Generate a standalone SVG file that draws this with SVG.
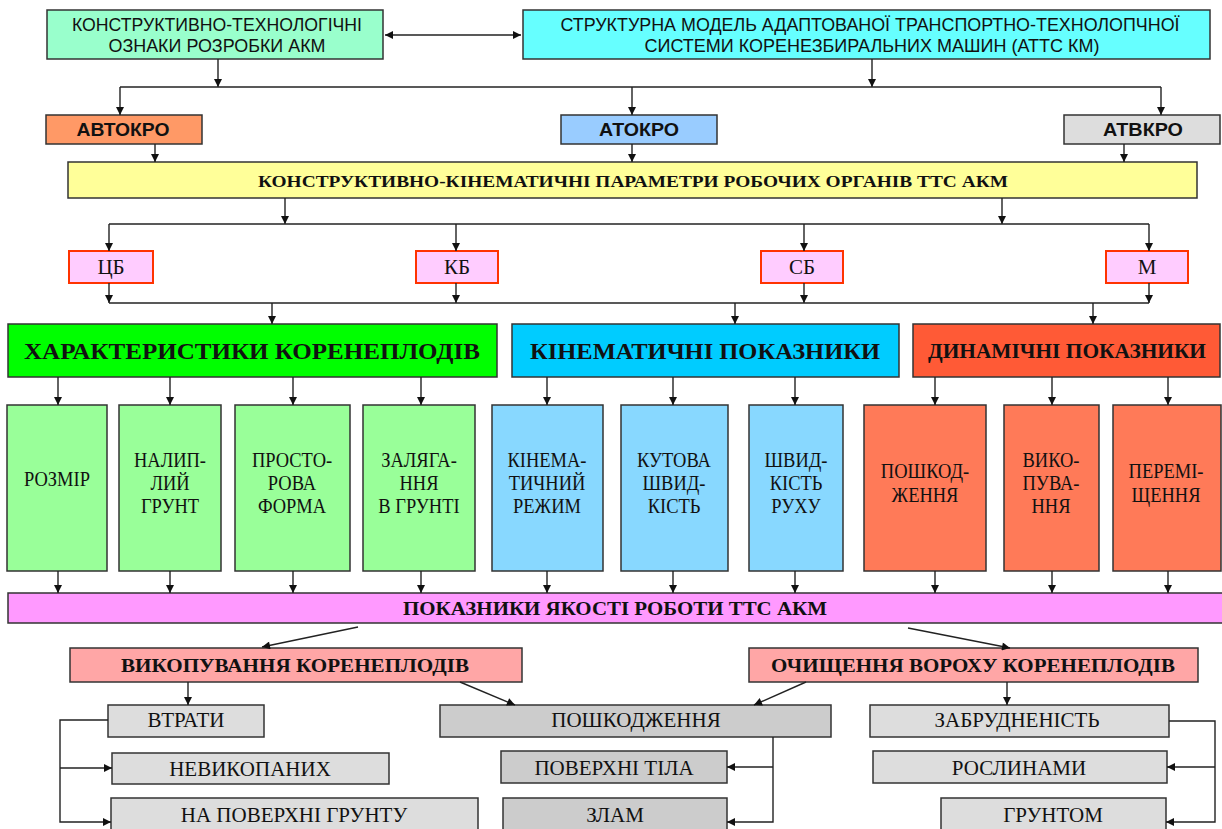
<svg xmlns="http://www.w3.org/2000/svg" width="1222" height="829" viewBox="0 0 1222 829">
<defs>
<marker id="ah" viewBox="0 0 10 10" refX="10" refY="5" markerWidth="9" markerHeight="8" markerUnits="userSpaceOnUse" orient="auto-start-reverse">
<path d="M0,0 L10,5 L0,10 z" fill="#111"/>
</marker>
<style>
rect{stroke:#333;stroke-width:1.5}
.c line,.c polyline{stroke:#222;stroke-width:1.4;fill:none}
.a{marker-end:url(#ah)}
.n{font-family:"Liberation Sans Narrow","Liberation Sans",Arial,sans-serif;font-size:19px;fill:#111;text-anchor:middle}
.ab{font-family:"Liberation Sans",Arial,sans-serif;font-weight:bold;font-size:18px;fill:#111;text-anchor:middle}
.tb{font-family:"Liberation Serif","Times New Roman",serif;font-weight:bold;fill:#111;text-anchor:middle}
.t{font-family:"Liberation Serif","Times New Roman",serif;font-size:21px;fill:#111;text-anchor:middle}
.sm{fill:#FFCCFF;stroke:#FF3300;stroke-width:2}
.g1{fill:#DDDDDD}
.g2{fill:#CCCCCC}
.cg{fill:#99FF99}
.cb{fill:#88D8FF}
.cr{fill:#FF7A58}
</style>
</defs>

<g id="nodeA">
<rect x="47" y="10" width="336" height="49" fill="#99FFCC"/>
<text class="n" x="217" y="31" textLength="290" lengthAdjust="spacingAndGlyphs">КОНСТРУКТИВНО-ТЕХНОЛОГІЧНІ</text>
<text class="n" x="217" y="52" textLength="217" lengthAdjust="spacingAndGlyphs">ОЗНАКИ РОЗРОБКИ АКМ</text>
</g>
<g id="nodeB">
<rect x="523" y="10" width="687" height="49" fill="#66FFFF"/>
<text class="n" x="870" y="31" textLength="619" lengthAdjust="spacingAndGlyphs">СТРУКТУРНА МОДЕЛЬ АДАПТОВАНОЇ ТРАНСПОРТНО-ТЕХНОЛОПЧНОЇ</text>
<text class="n" x="872" y="52" textLength="455" lengthAdjust="spacingAndGlyphs">СИСТЕМИ КОРЕНЕЗБИРАЛЬНИХ МАШИН (АТТС КМ)</text>
</g>

<g id="avtokro"><rect x="46" y="115" width="156" height="29" fill="#FF9966"/><text class="ab" x="123" y="136" textLength="93" lengthAdjust="spacingAndGlyphs">АВТОКРО</text></g>
<g id="atokro"><rect x="561" y="115" width="156" height="29" fill="#99CCFF"/><text class="ab" x="639" y="136" textLength="80" lengthAdjust="spacingAndGlyphs">АТОКРО</text></g>
<g id="atvkro"><rect x="1064" y="115" width="156" height="29" fill="#DDDDDD"/><text class="ab" x="1143" y="136" textLength="80" lengthAdjust="spacingAndGlyphs">АТВКРО</text></g>

<g id="params"><rect x="68" y="162" width="1129" height="36" fill="#FFFF99"/><text class="tb" x="633" y="187" font-size="17" textLength="750" lengthAdjust="spacingAndGlyphs">КОНСТРУКТИВНО-КІНЕМАТИЧНІ ПАРАМЕТРИ РОБОЧИХ ОРГАНІВ ТТС АКМ</text></g>

<g id="cb"><rect class="sm" x="69" y="251" width="84" height="32"/><text class="t" x="111" y="274" font-size="18">ЦБ</text></g>
<g id="kb"><rect class="sm" x="416" y="251" width="82" height="32"/><text class="t" x="457" y="274" font-size="18">КБ</text></g>
<g id="sb"><rect class="sm" x="761" y="251" width="82" height="32"/><text class="t" x="802" y="274" font-size="18">СБ</text></g>
<g id="m"><rect class="sm" x="1106" y="251" width="82" height="32"/><text class="t" x="1147" y="274" font-size="18">М</text></g>

<g id="harakt"><rect x="8" y="324" width="489" height="53" fill="#00FF00"/><text class="tb" x="252" y="359" font-size="23" textLength="456" lengthAdjust="spacingAndGlyphs">ХАРАКТЕРИСТИКИ  КОРЕНЕПЛОДІВ</text></g>
<g id="kinem"><rect x="512" y="324" width="387" height="53" fill="#00CCFF"/><text class="tb" x="705" y="359" font-size="23" textLength="350" lengthAdjust="spacingAndGlyphs">КІНЕМАТИЧНІ ПОКАЗНИКИ</text></g>
<g id="dynam"><rect x="913" y="324" width="307" height="53" fill="#FF5A36"/><text class="tb" x="1067" y="358" font-size="21" textLength="278" lengthAdjust="spacingAndGlyphs">ДИНАМІЧНІ  ПОКАЗНИКИ</text></g>

<g id="rozmir"><rect class="cg" x="7" y="405" width="100" height="166"/><g transform="translate(57 0) scale(0.88 1)"><text class="t" x="0" y="486">РОЗМІР</text></g></g>
<g id="nalyp"><rect class="cg" x="119" y="405" width="102" height="166"/><g transform="translate(170 0) scale(0.88 1)"><text class="t" x="0" y="467">НАЛИП-</text><text class="t" x="0" y="490">ЛИЙ</text><text class="t" x="0" y="513">ГРУНТ</text></g></g>
<g id="prostor"><rect class="cg" x="235" y="405" width="115" height="166"/><g transform="translate(292 0) scale(0.88 1)"><text class="t" x="0" y="467">ПРОСТО-</text><text class="t" x="0" y="490">РОВА</text><text class="t" x="0" y="513">ФОРМА</text></g></g>
<g id="zalyag"><rect class="cg" x="363" y="405" width="112" height="166"/><g transform="translate(419 0) scale(0.88 1)"><text class="t" x="0" y="467">ЗАЛЯГА-</text><text class="t" x="0" y="490">ННЯ</text><text class="t" x="0" y="513">В ГРУНТІ</text></g></g>
<g id="kinrez"><rect class="cb" x="492" y="405" width="111" height="166"/><g transform="translate(547 0) scale(0.88 1)"><text class="t" x="0" y="467">КІНЕМА-</text><text class="t" x="0" y="490">ТИЧНИЙ</text><text class="t" x="0" y="513">РЕЖИМ</text></g></g>
<g id="kutova"><rect class="cb" x="621" y="405" width="107" height="166"/><g transform="translate(674 0) scale(0.88 1)"><text class="t" x="0" y="467">КУТОВА</text><text class="t" x="0" y="490">ШВИД-</text><text class="t" x="0" y="513">КІСТЬ</text></g></g>
<g id="shvyd"><rect class="cb" x="749" y="405" width="94" height="166"/><g transform="translate(796 0) scale(0.88 1)"><text class="t" x="0" y="467">ШВИД-</text><text class="t" x="0" y="490">КІСТЬ</text><text class="t" x="0" y="513">РУХУ</text></g></g>
<g id="poshk"><rect class="cr" x="864" y="405" width="122" height="166"/><g transform="translate(925 0) scale(0.88 1)"><text class="t" x="0" y="478">ПОШКОД-</text><text class="t" x="0" y="502">ЖЕННЯ</text></g></g>
<g id="vykop"><rect class="cr" x="1004" y="405" width="95" height="166"/><g transform="translate(1051 0) scale(0.88 1)"><text class="t" x="0" y="467">ВИКО-</text><text class="t" x="0" y="490">ПУВА-</text><text class="t" x="0" y="513">ННЯ</text></g></g>
<g id="peremi"><rect class="cr" x="1113" y="405" width="108" height="166"/><g transform="translate(1166 0) scale(0.88 1)"><text class="t" x="0" y="478">ПЕРЕМІ-</text><text class="t" x="0" y="502">ЩЕННЯ</text></g></g>

<g id="quality"><rect x="8" y="593" width="1216" height="30" fill="#FF99FF"/><text class="tb" x="615" y="615" font-size="19" textLength="424" lengthAdjust="spacingAndGlyphs">ПОКАЗНИКИ ЯКОСТІ РОБОТИ ТТС АКМ</text></g>

<g id="vykopkor"><rect x="70" y="648" width="452" height="34" fill="#FFA6A6"/><text class="tb" x="295" y="672" font-size="19" textLength="348" lengthAdjust="spacingAndGlyphs">ВИКОПУВАННЯ КОРЕНЕПЛОДІВ</text></g>
<g id="ochysh"><rect x="749" y="648" width="449" height="34" fill="#FFA6A6"/><text class="tb" x="973" y="672" font-size="19" textLength="404" lengthAdjust="spacingAndGlyphs">ОЧИЩЕННЯ ВОРОХУ КОРЕНЕПЛОДІВ</text></g>

<g id="vtraty"><rect class="g1" x="108" y="705" width="156" height="32"/><text class="t" x="186" y="727">ВТРАТИ</text></g>
<g id="nevykop"><rect class="g1" x="112" y="753" width="277" height="31"/><text class="t" x="250" y="776">НЕВИКОПАНИХ</text></g>
<g id="napov"><rect class="g1" x="111" y="798" width="367" height="34"/><text class="t" x="294" y="822">НА ПОВЕРХНІ ГРУНТУ</text></g>

<g id="poshkodzh"><rect class="g2" x="440" y="705" width="391" height="32"/><text class="t" x="636" y="727">ПОШКОДЖЕННЯ</text></g>
<g id="povtila"><rect class="g2" x="501" y="751" width="226" height="32"/><text class="t" x="614" y="775">ПОВЕРХНІ ТІЛА</text></g>
<g id="zlam"><rect class="g2" x="503" y="798" width="224" height="34"/><text class="t" x="615" y="822">ЗЛАМ</text></g>

<g id="zabrud"><rect class="g1" x="870" y="705" width="299" height="32"/><text class="t" x="1017" y="727">ЗАБРУДНЕНІСТЬ</text></g>
<g id="roslyn"><rect class="g1" x="873" y="751" width="294" height="32"/><text class="t" x="1019" y="775">РОСЛИНАМИ</text></g>
<g id="gruntom"><rect class="g1" x="941" y="798" width="225" height="34"/><text class="t" x="1053" y="822">ГРУНТОМ</text></g>

<g id="connectors" class="c">
<line x1="385" y1="35" x2="521" y2="35" class="a" marker-start="url(#ah)"/>
<line x1="218" y1="59" x2="218" y2="87" class="a"/>
<line x1="872" y1="59" x2="872" y2="87" class="a"/>
<line x1="120" y1="87" x2="1161" y2="87"/>
<line x1="120" y1="87" x2="120" y2="115" class="a"/>
<line x1="632" y1="87" x2="632" y2="115" class="a"/>
<line x1="1161" y1="87" x2="1161" y2="115" class="a"/>
<line x1="155" y1="144" x2="155" y2="162" class="a"/>
<line x1="632" y1="144" x2="632" y2="162" class="a"/>
<line x1="1124" y1="144" x2="1124" y2="162" class="a"/>
<line x1="285" y1="198" x2="285" y2="224" class="a"/>
<line x1="1002" y1="198" x2="1002" y2="224" class="a"/>
<line x1="109" y1="224" x2="1149" y2="224"/>
<line x1="109" y1="224" x2="109" y2="251" class="a"/>
<line x1="456" y1="224" x2="456" y2="251" class="a"/>
<line x1="804" y1="224" x2="804" y2="251" class="a"/>
<line x1="1149" y1="224" x2="1149" y2="251" class="a"/>
<line x1="109" y1="283" x2="109" y2="303" class="a"/>
<line x1="456" y1="283" x2="456" y2="303" class="a"/>
<line x1="804" y1="283" x2="804" y2="303" class="a"/>
<line x1="1149" y1="283" x2="1149" y2="303" class="a"/>
<line x1="109" y1="303" x2="1149" y2="303"/>
<line x1="272" y1="303" x2="272" y2="324" class="a"/>
<line x1="735" y1="303" x2="735" y2="324" class="a"/>
<line x1="1093" y1="303" x2="1093" y2="324" class="a"/>
<line x1="58" y1="377" x2="58" y2="405" class="a"/>
<line x1="170" y1="377" x2="170" y2="405" class="a"/>
<line x1="293" y1="377" x2="293" y2="405" class="a"/>
<line x1="421" y1="377" x2="421" y2="405" class="a"/>
<line x1="547" y1="377" x2="547" y2="405" class="a"/>
<line x1="673" y1="377" x2="673" y2="405" class="a"/>
<line x1="795" y1="377" x2="795" y2="405" class="a"/>
<line x1="935" y1="377" x2="935" y2="405" class="a"/>
<line x1="1052" y1="377" x2="1052" y2="405" class="a"/>
<line x1="1168" y1="377" x2="1168" y2="405" class="a"/>
<line x1="58" y1="571" x2="58" y2="593" class="a"/>
<line x1="170" y1="571" x2="170" y2="593" class="a"/>
<line x1="293" y1="571" x2="293" y2="593" class="a"/>
<line x1="421" y1="571" x2="421" y2="593" class="a"/>
<line x1="547" y1="571" x2="547" y2="593" class="a"/>
<line x1="673" y1="571" x2="673" y2="593" class="a"/>
<line x1="795" y1="571" x2="795" y2="593" class="a"/>
<line x1="935" y1="571" x2="935" y2="593" class="a"/>
<line x1="1052" y1="571" x2="1052" y2="593" class="a"/>
<line x1="1168" y1="571" x2="1168" y2="593" class="a"/>
<line x1="358" y1="627" x2="262" y2="647" class="a"/>
<line x1="908" y1="628" x2="1010" y2="648" class="a"/>
<line x1="188" y1="682" x2="188" y2="705" class="a"/>
<line x1="460" y1="682" x2="515" y2="705" class="a"/>
<line x1="806" y1="682" x2="754" y2="705" class="a"/>
<line x1="1007" y1="682" x2="1007" y2="705" class="a"/>
<polyline points="108,720 60,720 60,822 111,822" class="a"/>
<line x1="60" y1="768" x2="112" y2="768" class="a"/>
<polyline points="773,737 773,822 727,822" class="a"/>
<line x1="773" y1="767" x2="727" y2="767" class="a"/>
<polyline points="1169,721 1215,721 1215,822 1166,822" class="a"/>
<line x1="1215" y1="767" x2="1167" y2="767" class="a"/>
</g>
</svg>
